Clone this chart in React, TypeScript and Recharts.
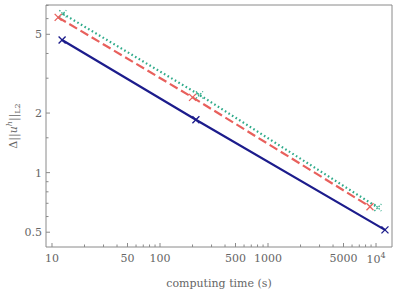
import { LineChart, Line, XAxis, YAxis, Label, ReferenceArea } from 'recharts';

// computing time (s) vs error, one list per series
const blueTimes = [12.4, 215, 12100];
const blueErrors = [4.68, 1.85, 0.514];
const redTimes = [11.4, 200, 8790];
const redErrors = [6.09, 2.4, 0.673];
const tealTimes = [12.6, 232, 10400];
const tealErrors = [6.35, 2.47, 0.666];

const xLabels = [10, 50, 100, 500, 1000, 5000, 10000];
const xTicks = [1, 10, 100, 1000].flatMap((d) => [1, 2, 3, 4, 5, 6, 7, 8, 9].map((m) => m * d * 10));
const yLabels = [0.5, 1, 2, 5];
const yTicks = [0.5, 0.6, 0.7, 0.8, 0.9, 1, 1.5, 2, 3, 4, 5, 6, 7];

const toPoints = (xs: number[], ys: number[]) => xs.map((x, i) => ({ x, y: ys[i] }));

const blueData = toPoints(blueTimes, blueErrors);
const redData = toPoints(redTimes, redErrors);
const tealData = toPoints(tealTimes, tealErrors);

const X_DOMAIN: [number, number] = [8.8, 14060];
const Y_DOMAIN: [number, number] = [0.421, 7.03];

const AXIS = '#8a8a8a';
const TEXT = '#666';
const FONT = '"DejaVu Serif", serif';

const cross = (color: string, dash?: string) => (props: any) => {
  const { cx, cy } = props;
  if (cx == null || cy == null) return <g />;
  const s = 3.5;
  return (
    <g>
      <line x1={cx - s} y1={cy - s} x2={cx + s} y2={cy + s} stroke={color} strokeWidth={1.3} strokeDasharray={dash} />
      <line x1={cx - s} y1={cy + s} x2={cx + s} y2={cy - s} stroke={color} strokeWidth={1.3} strokeDasharray={dash} />
    </g>
  );
};

const BottomTick = (props: any) => {
  const { x, y, payload } = props;
  const v = payload.value;
  const labeled = xLabels.includes(v);
  return (
    <g>
      <line x1={x} y1={y} x2={x} y2={y - (labeled ? 4 : 2.5)} stroke={AXIS} />
      {labeled && v === 10000 ? (
        <text x={x} y={y + 16} textAnchor="middle" fill={TEXT} fontSize={11} fontFamily={FONT}>
          10<tspan dy={-5} fontSize={8}>4</tspan>
        </text>
      ) : labeled ? (
        <text x={x} y={y + 15} textAnchor="middle" fill={TEXT} fontSize={11} fontFamily={FONT}>
          {v}
        </text>
      ) : null}
    </g>
  );
};

const TopTick = (props: any) => {
  const { x, y, payload } = props;
  const labeled = xLabels.includes(payload.value);
  return <line x1={x} y1={y} x2={x} y2={y + (labeled ? 4 : 2.5)} stroke={AXIS} />;
};

const LeftTick = (props: any) => {
  const { x, y, payload } = props;
  const labeled = yLabels.includes(payload.value);
  return (
    <g>
      <line x1={x} y1={y} x2={x + (labeled ? 4 : 2.5)} y2={y} stroke={AXIS} />
      {labeled && (
        <text x={x - 4} y={y + 4} textAnchor="end" fill={TEXT} fontSize={11} fontFamily={FONT}>
          {payload.value}
        </text>
      )}
    </g>
  );
};

const RightTick = (props: any) => {
  const { x, y, payload } = props;
  const labeled = yLabels.includes(payload.value);
  return <line x1={x} y1={y} x2={x - (labeled ? 4 : 2.5)} y2={y} stroke={AXIS} />;
};

const YTitle = () => (
  <text
    x={0}
    y={0}
    transform="translate(17,126) rotate(-90)"
    textAnchor="middle"
    fill={TEXT}
    fontSize={11}
    fontFamily={FONT}
  >
    Δ||<tspan fontStyle="italic">u</tspan>
    <tspan dy={-5} fontSize={8} fontStyle="italic">h</tspan>
    <tspan dy={5}>||</tspan>
    <tspan dy={3} fontSize={8}>L2</tspan>
  </text>
);

const XTitle = () => (
  <text x={219} y={287} textAnchor="middle" fill={TEXT} fontSize={11} fontFamily={FONT}>
    computing time (s)
  </text>
);

export default function App() {
  return (
    <div style={{ position: 'absolute', left: 0, top: 0 }}>
      <LineChart
        width={399}
        height={293}
        margin={{ top: 5, right: 7, bottom: 16, left: 6 }}
      >
        <XAxis
          xAxisId="b"
          dataKey="x"
          type="number"
          scale="log"
          domain={X_DOMAIN}
          allowDataOverflow
          ticks={xTicks}
          interval={0}
          tick={<BottomTick />}
          tickSize={0}
          tickMargin={0}
          tickLine={false}
          axisLine={false}
          height={30}
        >
          <Label content={<XTitle />} />
        </XAxis>
        <XAxis
          xAxisId="t"
          orientation="top"
          dataKey="x"
          type="number"
          scale="log"
          domain={X_DOMAIN}
          allowDataOverflow
          ticks={xTicks}
          interval={0}
          tick={<TopTick />}
          tickSize={0}
          tickMargin={0}
          tickLine={false}
          axisLine={false}
          height={0}
        />
        <YAxis
          yAxisId="l"
          dataKey="y"
          type="number"
          scale="log"
          domain={Y_DOMAIN}
          allowDataOverflow
          ticks={yTicks}
          interval={0}
          tick={<LeftTick />}
          tickSize={0}
          tickMargin={0}
          tickLine={false}
          axisLine={false}
          width={40}
        >
          <Label content={<YTitle />} />
        </YAxis>
        <YAxis
          yAxisId="r"
          orientation="right"
          dataKey="y"
          type="number"
          scale="log"
          domain={Y_DOMAIN}
          allowDataOverflow
          ticks={yTicks}
          interval={0}
          tick={<RightTick />}
          tickSize={0}
          tickMargin={0}
          tickLine={false}
          axisLine={false}
          width={0}
        />
        <ReferenceArea
          xAxisId="b"
          yAxisId="l"
          x1={X_DOMAIN[0]}
          x2={X_DOMAIN[1]}
          y1={Y_DOMAIN[0]}
          y2={Y_DOMAIN[1]}
          fill="none"
          fillOpacity={0}
          stroke={AXIS}
          strokeWidth={1}
          ifOverflow="visible"
        />
        <Line
          xAxisId="b"
          yAxisId="l"
          data={tealData}
          dataKey="y"
          stroke="#2fab8a"
          strokeWidth={2.2}
          strokeDasharray="1.6 2.6"
          dot={cross('#2fab8a', '1.5 1.5')}
          isAnimationActive={false}
        />
        <Line
          xAxisId="b"
          yAxisId="l"
          data={redData}
          dataKey="y"
          stroke="#e8605c"
          strokeWidth={2.2}
          strokeDasharray="9 4"
          dot={cross('#e8605c')}
          isAnimationActive={false}
        />
        <Line
          xAxisId="b"
          yAxisId="l"
          data={blueData}
          dataKey="y"
          stroke="#1c1c8c"
          strokeWidth={2.2}
          dot={cross('#1c1c8c')}
          isAnimationActive={false}
        />
      </LineChart>
    </div>
  );
}
